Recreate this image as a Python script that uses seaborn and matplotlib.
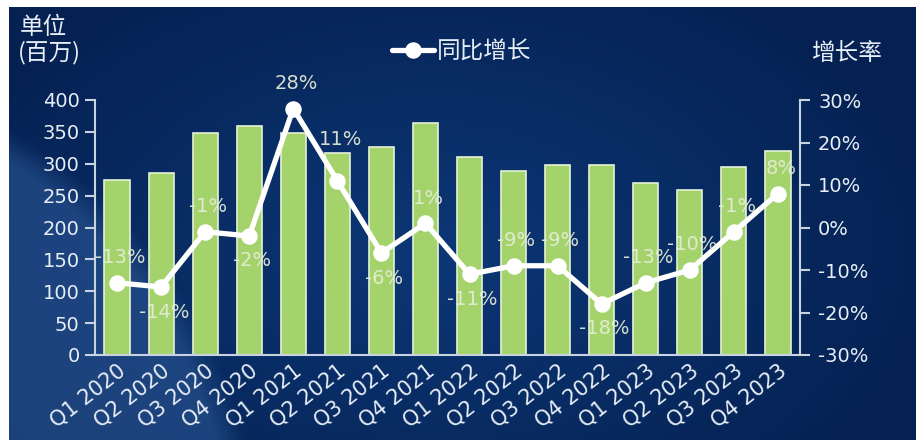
import numpy as np
import pandas as pd
import matplotlib
matplotlib.use('Agg')
import matplotlib.pyplot as plt
import seaborn as sns

# data
quarters = ['Q1 2020', 'Q2 2020', 'Q3 2020', 'Q4 2020',
            'Q1 2021', 'Q2 2021', 'Q3 2021', 'Q4 2021',
            'Q1 2022', 'Q2 2022', 'Q3 2022', 'Q4 2022',
            'Q1 2023', 'Q2 2023', 'Q3 2023', 'Q4 2023']
shipments = [275, 285, 348, 359, 348, 317, 326, 364,
             311, 289, 298, 298, 270, 259, 295, 320]   # 百万
yoy_growth = [-13, -14, -1, -2, 28, 11, -6, 1,
              -11, -9, -9, -18, -13, -10, -1, 8]        # %
# where each growth label sits: 1 above the point, -1 below
label_side = [1, -1, 1, -1, 1, 1, -1, 1, -1, 1, 1, -1, 1, 1, 1, 1]

df = pd.DataFrame({'quarter': quarters, 'shipments': shipments, 'yoy': yoy_growth})

sns.set_theme(style='white')
plt.rcParams['font.family'] = ['DejaVu Sans', 'Noto Sans CJK SC']

W, H = 916, 443
fig = plt.figure(figsize=(W / 100, H / 100), dpi=100)
fig.patch.set_facecolor('white')

# ---- background: dark navy gradient with a lighter swoosh bottom-left
bg_ax = fig.add_axes([9 / W, 3 / H, 1 - 9 / W, 1 - 10 / H], zorder=-10)
yy, xx = np.mgrid[0:H, 0:W].astype(float)
dark = np.array([5, 33, 82]) / 255
mid = np.array([12, 55, 118]) / 255
r = np.sqrt(((xx - 430) / 520) ** 2 + ((yy - 250) / 330) ** 2)
t = np.clip(1 - r, 0, 1)[..., None]
img = dark + (mid - dark) * t
# swoosh
d = np.sqrt((xx + 250) ** 2 + (yy - 560) ** 2)
sw = np.clip((502 - d) / 30, 0, 1)[..., None]
img = img + sw * (np.array([38, 80, 140]) / 255 - img) * 0.7
bg_ax.imshow(img, aspect='auto', extent=[0, 1, 0, 1])
bg_ax.axis('off')

# ---- main axes
ax = fig.add_axes([95 / W, 1 - 355 / H, 705 / W, 255 / H])
ax.set_facecolor('none')
sns.barplot(data=df, x='quarter', y='shipments', ax=ax, color='#a5d36b',
            saturation=1, width=0.57, edgecolor='#e4f2d8', linewidth=1.2)
ax.set_xlim(-0.5, len(quarters) - 0.5)
ax.set_ylim(0, 400)
ax.set_yticks(range(0, 401, 50))
ax.set_xlabel('')
ax.set_ylabel('')

axis_col = '#c8d3e2'
txt_col = '#e8eef6'
for side in ['top', 'right']:
    ax.spines[side].set_visible(False)
for side in ['left', 'bottom']:
    ax.spines[side].set_color(axis_col)
    ax.spines[side].set_linewidth(1.5)
ax.tick_params(axis='y', colors=axis_col, labelcolor=txt_col, labelsize=14,
               length=7, width=1.5, direction='out', left=True, pad=4)
ax.tick_params(axis='x', labelcolor=txt_col, labelsize=15, length=0, pad=4)
for lab in ax.get_xticklabels():
    lab.set_rotation(38)
    lab.set_ha('right')
    lab.set_rotation_mode('anchor')

# ---- growth line on the right axis
ax2 = ax.twinx()
ax2.set_facecolor('none')
sns.pointplot(data=df, x='quarter', y='yoy', ax=ax2, color='white',
              markers='o', markersize=9, linewidth=3.8, label='同比增长')
ax2.set_xlim(-0.5, len(quarters) - 0.5)
ax2.set_ylim(-30, 30)
ax2.set_yticks(range(-30, 31, 10))
ax2.set_yticklabels([f'{v}%' for v in range(-30, 31, 10)])
ax2.set_ylabel('')
for side in ['top', 'left', 'bottom']:
    ax2.spines[side].set_visible(False)
ax2.spines['right'].set_color(axis_col)
ax2.spines['right'].set_linewidth(1.5)
ax2.tick_params(axis='y', colors=axis_col, labelcolor=txt_col, labelsize=14,
                length=7, width=1.5, direction='out', right=True, pad=6)

for i, (v, s) in enumerate(zip(yoy_growth, label_side)):
    dy = 18 if s > 0 else -18
    if quarters[i] == 'Q2 2021':
        dy = 30
    ax2.annotate(f'{v}%', (i, v), xytext=(2, dy), textcoords='offset points',
                 ha='center', va='center', fontsize=14, color='#e6edd8',
                 alpha=0.92, zorder=5)

# legend
leg = ax2.legend(loc='center', bbox_to_anchor=(0.52, 1.188), frameon=False,
                 labelcolor=txt_col, handlelength=1.8, handletextpad=0.1,
                 prop={'family': 'Noto Sans CJK SC', 'size': 17})

# axis titles
fig.text(20 / W, 1 - 27 / H, '单位', fontsize=17, color=txt_col,
         family='Noto Sans CJK SC', va='center', ha='left')
fig.text(18 / W, 1 - 53 / H, '(百万)', fontsize=17, color=txt_col,
         family='Noto Sans CJK SC', va='center', ha='left')
fig.text(846 / W, 1 - 53 / H, '增长率', fontsize=17, color=txt_col,
         family='Noto Sans CJK SC', va='center', ha='center')

fig.savefig('out.png', dpi=100)
